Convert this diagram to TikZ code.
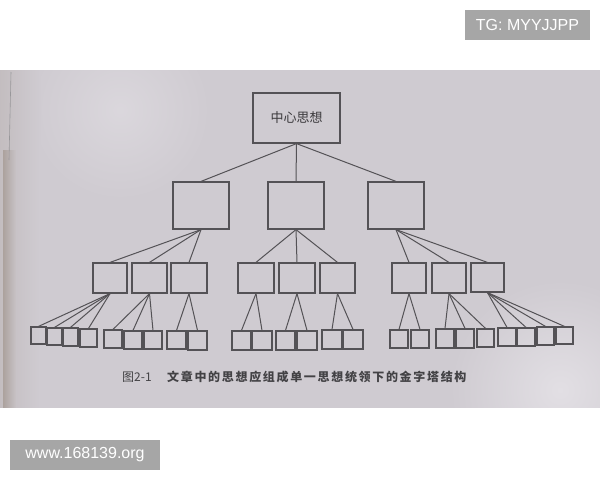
\documentclass[tikz,border=0pt]{standalone}
\usepackage{fontspec}
\setmainfont{Liberation Sans}
\newfontfamily\cjk{Noto Sans CJK SC}
\newfontfamily\cjkcap[LetterSpace=14]{Noto Sans CJK SC}
\usetikzlibrary{fit}
\definecolor{paper}{RGB}{207,203,209}
\definecolor{paperlight}{RGB}{226,223,228}
\definecolor{binding}{RGB}{160,148,140}
\definecolor{ink}{RGB}{84,82,86}
\definecolor{wm}{RGB}{166,166,166}
\tikzset{
  bx/.style={draw=ink, line width=1.2pt, inner sep=0pt},
  ln/.style={draw=ink, line width=1pt},
  wmbox/.style={fill=wm, text=white, inner sep=0pt, font=\fontsize{16}{18}\selectfont}
}
\newcommand{\bb}[5]{\node[bx, fit={(#2,#3)(#4,#5)}] (#1) {};}
\begin{document}
\begin{tikzpicture}[x=1pt,y=-1pt]
\useasboundingbox (0,0) rectangle (600,480);
\fill[white] (0,0) rectangle (600,480);
% paper photo
\fill[paper] (0,70) rectangle (600,407.5);
\begin{scope}
\clip (0,70) rectangle (600,407.5);
\shade[inner color=paperlight, outer color=paper] (560,390) circle (110);
\shade[inner color=paperlight!60!paper, outer color=paper] (120,110) circle (90);
\shade[left color=paper!75!binding, right color=paper] (0,60) rectangle (40,420);
\shade[left color=binding!75!paper, right color=paper!85!binding] (3,150) rectangle (16,420);
\draw[ink!60, line width=0.6pt] (11,72) -- (9,160);
\end{scope}
% watermarks
\node[wmbox, minimum width=125pt, minimum height=30pt] (tg) at (527.5,25) {TG: MYYJJPP};
\node[wmbox, minimum width=150pt, minimum height=30pt] (www) at (85,455) {www.168139.org};
% top
\node[bx, fit={(253,93)(340,143)}] (T) {};
\node[font=\cjk\fontsize{13}{13}\selectfont, text=ink!70!black] (Tt) at (T.center) {中心思想};
% level 2
\bb{M1}{173}{182}{229}{229}
\bb{M2}{268}{182}{324}{229}
\bb{M3}{368}{182}{424}{229}
% level 3
\bb{S1}{93}{263}{127}{293}
\bb{S2}{132}{263}{167}{293}
\bb{S3}{171}{263}{207}{293}
\bb{S4}{238}{263}{274}{293}
\bb{S5}{279}{263}{315}{293}
\bb{S6}{320}{263}{355}{293}
\bb{S7}{392}{263}{426}{293}
\bb{S8}{432}{263}{466}{293}
\bb{S9}{471}{263}{504}{292}
% level 4
\bb{B1}{31}{327}{46}{344}
\bb{B2}{47}{328}{62}{345}
\bb{B3}{63}{328}{78}{346}
\bb{B4}{80}{329}{97}{347}
\bb{B5}{104}{330}{122}{348}
\bb{B6}{124}{331}{142}{349}
\bb{B7}{144}{331}{162}{349}
\bb{B8}{167}{331}{186}{349}
\bb{B9}{188}{331}{207}{350}
\bb{B10}{232}{331}{251}{350}
\bb{B11}{252}{331}{272}{350}
\bb{B12}{276}{331}{295}{350}
\bb{B13}{297}{331}{317}{350}
\bb{B14}{322}{330}{342}{349}
\bb{B15}{343}{330}{363}{349}
\bb{B16}{390}{330}{408}{348}
\bb{B17}{411}{330}{429}{348}
\bb{B18}{436}{329}{454}{348}
\bb{B19}{456}{329}{474}{348}
\bb{B20}{477}{329}{494}{347}
\bb{B21}{498}{328}{516}{346}
\bb{B22}{517}{328}{535}{346}
\bb{B23}{537}{327}{554}{345}
\bb{B24}{556}{327}{573}{344}
% connectors
\foreach \c in {M1,M2,M3} \draw[ln] (T.south) -- (\c.north);
\foreach \c in {S1,S2,S3} \draw[ln] (M1.south) -- (\c.north);
\foreach \c in {S4,S5,S6} \draw[ln] (M2.south) -- (\c.north);
\foreach \c in {S7,S8,S9} \draw[ln] (M3.south) -- (\c.north);
\foreach \c in {B1,B2,B3,B4} \draw[ln] (S1.south) -- (\c.north);
\foreach \c in {B5,B6,B7} \draw[ln] (S2.south) -- (\c.north);
\foreach \c in {B8,B9} \draw[ln] (S3.south) -- (\c.north);
\foreach \c in {B10,B11} \draw[ln] (S4.south) -- (\c.north);
\foreach \c in {B12,B13} \draw[ln] (S5.south) -- (\c.north);
\foreach \c in {B14,B15} \draw[ln] (S6.south) -- (\c.north);
\foreach \c in {B16,B17} \draw[ln] (S7.south) -- (\c.north);
\foreach \c in {B18,B19,B20} \draw[ln] (S8.south) -- (\c.north);
\foreach \c in {B21,B22,B23,B24} \draw[ln] (S9.south) -- (\c.north);
% caption
\node[anchor=west, font=\cjk\fontsize{12}{12}\selectfont, text=ink!80!black, inner sep=0pt] (cap1) at (122,377) {图2-1};
\node[anchor=west, font=\cjkcap\fontsize{12}{12}\selectfont\bfseries, text=ink!80!black, inner sep=0pt] (cap2) at (167,377) {文章中的思想应组成单一思想统领下的金字塔结构};
\end{tikzpicture}
\end{document}
